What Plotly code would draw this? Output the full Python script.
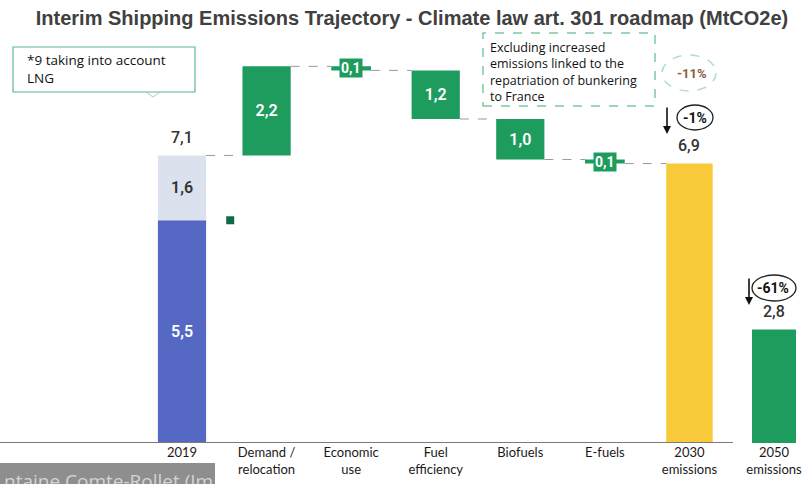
import plotly.graph_objects as go

# ---- data -------------------------------------------------------------
categories = ["2019", "Demand /<br>relocation", "Economic<br>use", "Fuel<br>efficiency",
              "Biofuels", "E-fuels", "2030<br>emissions", "2050<br>emissions"]
parts_2019 = [5.5, 1.6]                 # core emissions, additional share
steps = [2.2, -0.1, -1.2, -1.0, -0.1]   # demand, economic use, fuel efficiency, biofuels, e-fuels
total_2030 = 6.9
total_2050 = 2.8
change_labels = ["-11%", "-1%", "-61%"]
note_lng = "*9 taking into account<br>LNG"
note_bunkering = ("Excluding increased<br>emissions linked to the<br>"
                  "repatriation of bunkering<br>to France")
source_strip = "ntaine Comte-Rollet (Im"

# ---- style ------------------------------------------------------------
BLUE = "#5468C4"
LIGHT = "#DCE1EE"
GREEN = "#1E9C5E"
DARK_GREEN = "#0E6B45"
YELLOW = "#F8CA3A"
TEXT = "#333333"
W, H = 803, 484
PLOT_TOP, PLOT_BOTTOM = 30, 443
FONT = "Open Sans"
LABEL_FONT = "Lato"
NUM_FONT = "Roboto"


def fmt(v):
    return f"{abs(v):.1f}".replace(".", ",")


def xp(px):
    return px / W


def yp(py):
    return (PLOT_BOTTOM - py) / (PLOT_BOTTOM - PLOT_TOP)


pos = list(range(len(categories)))
BW = 0.57
SMALL_BW = 0.47
VAL_FONT = dict(size=16, family=NUM_FONT, weight=600)

fig = go.Figure()

# 2019 stacked bar
fig.add_trace(go.Bar(x=[pos[0]], y=[parts_2019[0]], base=[0], width=BW,
                     marker=dict(color=BLUE, line_width=0),
                     text=[fmt(parts_2019[0])], textposition="inside",
                     insidetextanchor="middle", textfont=dict(color="white", **VAL_FONT)))
fig.add_trace(go.Bar(x=[pos[0]], y=[parts_2019[1]], base=[parts_2019[0]], width=BW,
                     marker=dict(color=LIGHT, line_width=0),
                     text=[fmt(parts_2019[1])], textposition="inside",
                     insidetextanchor="middle", textfont=dict(color=TEXT, **VAL_FONT)))

# waterfall steps
start = sum(parts_2019)
level = start
bases, heights, widths, texts, levels_after = [], [], [], [], []
for s in steps:
    new = round(level + s, 2)
    bases.append(min(level, new))
    heights.append(abs(s))
    small = abs(s) < 0.3
    widths.append(SMALL_BW if small else BW)
    texts.append("" if small else fmt(s))
    levels_after.append(new)
    level = new
step_pos = pos[1:1 + len(steps)]
fig.add_trace(go.Bar(x=step_pos, y=heights, base=bases, width=widths,
                     marker=dict(color=GREEN, line_width=0),
                     text=texts, textposition="inside", insidetextanchor="middle",
                     textfont=dict(color="white", **VAL_FONT)))

# 2030 and 2050 totals
fig.add_trace(go.Bar(x=[pos[6]], y=[total_2030], base=[0], width=0.55,
                     marker=dict(color=YELLOW, line_width=0)))
fig.add_trace(go.Bar(x=[pos[7]], y=[total_2050], base=[0], width=0.52,
                     marker=dict(color=GREEN, line_width=0)))

# dashed connectors between consecutive bars
conn_x, conn_y = [], []
all_widths = [BW] + widths + [0.55]
all_levels = [start] + levels_after
for i, lv in enumerate(all_levels):
    conn_x += [pos[i] + all_widths[i] / 2, pos[i + 1] - all_widths[i + 1] / 2, None]
    conn_y += [lv, lv, None]
fig.add_trace(go.Scatter(x=conn_x, y=conn_y, mode="lines",
                         line=dict(color="#9A9A9A", width=1, dash="dash")))

# small marker next to the 2019 bar
fig.add_trace(go.Scatter(x=[pos[0] + 0.57], y=[parts_2019[0]], mode="markers",
                         marker=dict(symbol="square", size=8, color=DARK_GREEN)))

annotations = []
shapes = []

# value labels above totals
for p, v in zip([pos[0], pos[6], pos[7]], [start, total_2030, total_2050]):
    annotations.append(dict(x=p, y=v, text=fmt(v), showarrow=False, xanchor="center",
                            yanchor="middle", yshift=18,
                            font=dict(color=TEXT, size=16, family=NUM_FONT, weight=500)))

# label boxes for the small steps
for p, b, h, s in zip(step_pos, bases, heights, steps):
    if abs(s) < 0.3:
        annotations.append(dict(x=p, y=b + h / 2, text=f"<b>{fmt(s)}</b>", showarrow=False,
                                xanchor="center", yanchor="middle",
                                font=dict(color="white", size=14, family=NUM_FONT),
                                bgcolor=GREEN, borderpad=1))

# baseline
shapes.append(dict(type="line", xref="paper", yref="y", x0=0, x1=xp(733), y0=0, y1=0,
                   line=dict(color="#7A7A7A", width=2)))

# LNG callout
shapes.append(dict(type="rect", xref="paper", yref="paper",
                   x0=xp(13), x1=xp(195), y0=yp(92), y1=yp(47),
                   line=dict(color="#5DB88E", width=1.2), fillcolor="white"))
shapes.append(dict(type="path", xref="paper", yref="paper",
                   path=f"M {xp(146)},{yp(92)} L {xp(153)},{yp(97)} L {xp(160)},{yp(92)}",
                   line=dict(color="#A8CFC0", width=1)))
annotations.append(dict(xref="paper", yref="paper", x=xp(25), y=yp(49),
                        xanchor="left", yanchor="top", align="left", showarrow=False,
                        text=note_lng, font=dict(size=13.5, color="#111", family=FONT)))

# bunkering note
shapes.append(dict(type="rect", xref="paper", yref="paper",
                   x0=xp(483), x1=xp(655), y0=yp(106), y1=yp(33),
                   line=dict(color="#7CC7A6", width=1.5, dash="dash")))
annotations.append(dict(xref="paper", yref="paper", x=xp(488), y=yp(37),
                        xanchor="left", yanchor="top", align="left", showarrow=False,
                        text=note_bunkering,
                        font=dict(size=12.5, color="#111", family=FONT)))

# percentage bubbles
shapes.append(dict(type="circle", xref="paper", yref="paper",
                   x0=xp(662), x1=xp(716), y0=yp(91), y1=yp(55),
                   line=dict(color="#B5DCCB", width=1.5, dash="dash")))
annotations.append(dict(xref="paper", yref="paper", x=xp(692), y=yp(73), showarrow=False,
                        xanchor="center", yanchor="middle",
                        text=f"<b>{change_labels[0]}</b>",
                        font=dict(size=13, color="#8B5E3C", family=NUM_FONT)))

shapes.append(dict(type="circle", xref="paper", yref="paper",
                   x0=xp(677), x1=xp(713), y0=yp(130), y1=yp(105),
                   line=dict(color="#222", width=1.3)))
annotations.append(dict(xref="paper", yref="paper", x=xp(695), y=yp(118), showarrow=False,
                        xanchor="center", yanchor="middle",
                        text=f"<b>{change_labels[1]}</b>",
                        font=dict(size=14, color="#111", family=NUM_FONT)))
annotations.append(dict(xref="paper", yref="paper", x=xp(667), y=yp(134), ax=0, ay=-28,
                        text="", showarrow=True, arrowhead=2, arrowsize=1, arrowwidth=1.6,
                        arrowcolor="#111"))

shapes.append(dict(type="circle", xref="paper", yref="paper",
                   x0=xp(752), x1=xp(796), y0=yp(301), y1=yp(275),
                   line=dict(color="#222", width=1.3)))
annotations.append(dict(xref="paper", yref="paper", x=xp(773), y=yp(288), showarrow=False,
                        xanchor="center", yanchor="middle",
                        text=f"<b>{change_labels[2]}</b>",
                        font=dict(size=14, color="#111", family=NUM_FONT)))
annotations.append(dict(xref="paper", yref="paper", x=xp(749), y=yp(305), ax=0, ay=-28,
                        text="", showarrow=True, arrowhead=2, arrowsize=1, arrowwidth=1.6,
                        arrowcolor="#111"))

# grey source strip at the lower left
shapes.append(dict(type="rect", xref="paper", yref="paper",
                   x0=0, x1=xp(215), y0=yp(490), y1=yp(463),
                   line=dict(width=0), fillcolor="#8E8E8E", layer="below"))
annotations.append(dict(xref="paper", yref="paper", x=xp(2), y=yp(466),
                        xanchor="left", yanchor="top", showarrow=False, text=source_strip,
                        font=dict(size=19, color="#D4D4D4", family=FONT)))

fig.update_layout(
    width=W, height=H, autosize=False,
    margin=dict(l=0, r=0, t=PLOT_TOP, b=H - PLOT_BOTTOM, pad=0),
    paper_bgcolor="white", plot_bgcolor="white",
    barmode="overlay", showlegend=False,
    title=dict(text="<b>Interim Shipping Emissions Trajectory - Climate law art. 301 roadmap (MtCO2e)</b>",
               x=xp(412), xanchor="center", y=1 - 18 / H, yanchor="middle",
               font=dict(family="Liberation Sans", size=20, color="#404040")),
    xaxis=dict(range=[-182 / 84.57, 7 + 29 / 84.57], tickvals=pos, ticktext=categories,
               showgrid=False, zeroline=False, showline=False, ticks="",
               ticklabeloverflow="allow",
               tickfont=dict(family=LABEL_FONT, size=13, color="#1a1a1a"), fixedrange=True),
    yaxis=dict(range=[0, (PLOT_BOTTOM - PLOT_TOP) / 40.5], visible=False, fixedrange=True),
    shapes=shapes, annotations=annotations,
)

fig.write_html("out.html")
